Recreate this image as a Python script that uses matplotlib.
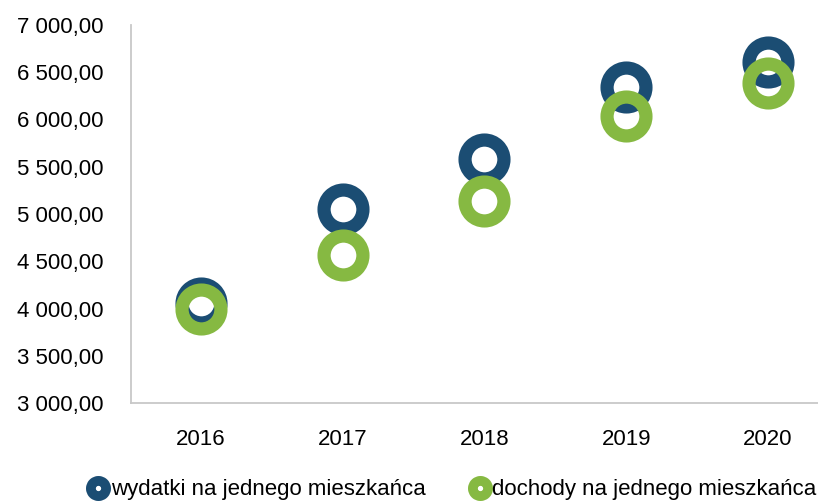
import matplotlib
matplotlib.use("Agg")
import matplotlib.pyplot as plt
from matplotlib.lines import Line2D
from matplotlib.ticker import FuncFormatter

plt.rcParams['font.family'] = ['Liberation Sans', 'DejaVu Sans']

years = ['2016', '2017', '2018', '2019', '2020']
wydatki = [4055, 5055, 5580, 6340, 6605]
dochody = [3990, 4565, 5135, 6035, 6385]
labels = ['wydatki na jednego mieszkańca', 'dochody na jednego mieszkańca']
blue = '#1B4D73'
green = '#86B942'

fig = plt.figure(figsize=(8.18, 5.04), dpi=100)
ax = fig.add_axes([131 / 818, 1 - 403 / 504, 1 - 131 / 818, (403 - 25) / 504])

x = list(range(len(years)))
ax.plot(x, wydatki, ls='none', marker='o', ms=28, mew=9.5,
        mfc='none', mec=blue, zorder=3)
ax.plot(x, dochody, ls='none', marker='o', ms=28, mew=9.5,
        mfc='none', mec=green, zorder=4)

ax.set_xlim(-0.494, 4.353)
ax.set_ylim(3000, 7000)
ax.set_yticks(range(3000, 7001, 500))
ax.yaxis.set_major_formatter(FuncFormatter(
    lambda v, p: f"{v:,.2f}".replace(',', ' ').replace('.', ',')))
ax.set_xticks(x)
ax.set_xticklabels(years)
ax.tick_params(length=0, labelsize=16, colors='black')
ax.tick_params(axis='y', pad=20)
ax.tick_params(axis='x', pad=19)

for s in ['top', 'right']:
    ax.spines[s].set_visible(False)
for s in ['left', 'bottom']:
    ax.spines[s].set_color('#C8C8C8')
    ax.spines[s].set_linewidth(1.3)

handles = [
    Line2D([], [], ls='none', marker='o', ms=11, mew=7, mfc='white', mec=blue),
    Line2D([], [], ls='none', marker='o', ms=11, mew=7, mfc='white', mec=green),
]
fig.legend(handles, labels, loc='center', bbox_to_anchor=(0.553, 0.028), ncol=2,
           frameon=False, fontsize=16, handlelength=0.9, handletextpad=0.1,
           columnspacing=2.0, borderaxespad=0)

fig.savefig('out.png', dpi=100)
